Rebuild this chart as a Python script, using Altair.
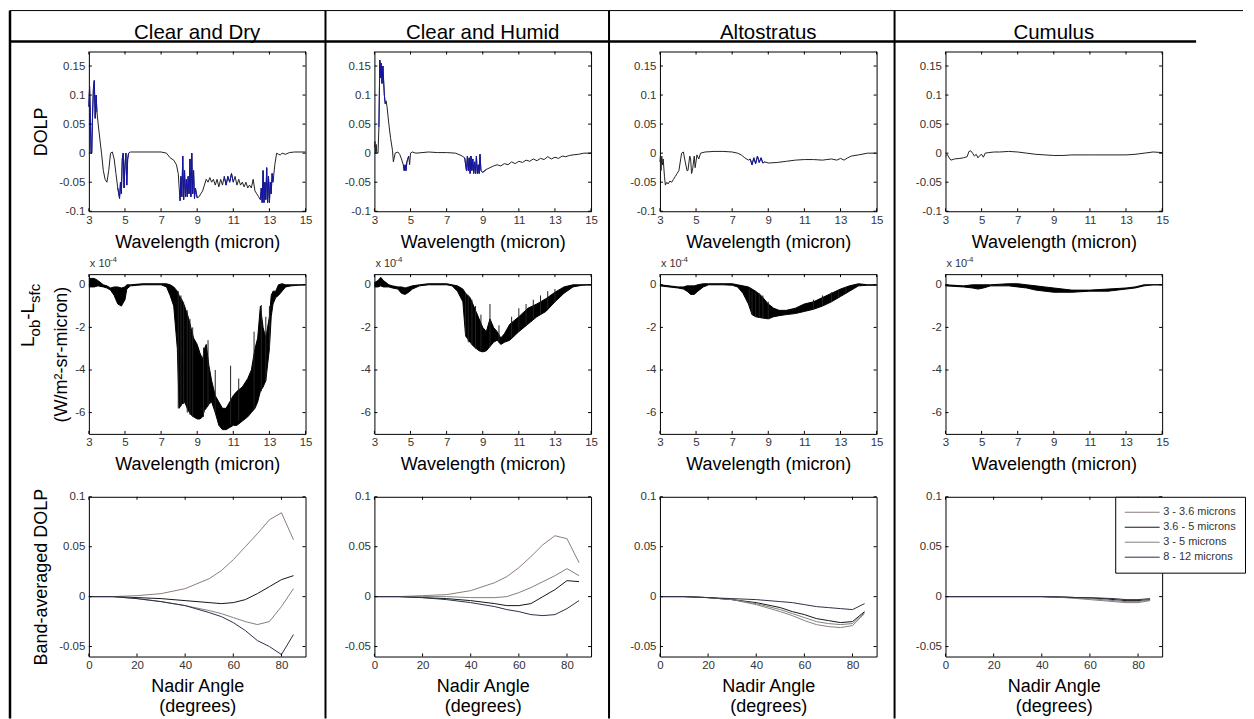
import altair as alt
import pandas as pd

FONT = "Liberation Sans"
W, H = 217, 160
TICK = 3

column_titles = ["Clear and Dry", "Clear and Humid", "Altostratus", "Cumulus"]

# ---------------- Row 1: DOLP spectra ----------------
dolp_wl_dry = [3.0, 3.04, 3.08, 3.12, 3.16, 3.2, 3.25, 3.3, 3.35, 3.4, 3.45, 3.55, 3.7, 3.8, 3.9, 4.0,
               4.1, 4.2, 4.3, 4.4, 4.5, 4.6, 4.7, 4.75, 4.8, 4.85, 4.9, 4.95, 5.0, 5.05, 5.1, 5.15,
               5.2, 5.3, 5.6, 6.0, 6.5, 7.0, 7.3, 7.5, 7.7, 7.85, 7.95, 8.05, 8.1, 8.15, 8.2, 8.25,
               8.3, 8.35, 8.4, 8.45, 8.5, 8.55, 8.6, 8.65, 8.7, 8.75, 8.8, 8.85, 8.9, 9.0, 9.1, 9.2,
               9.3, 9.4, 9.5, 9.6, 9.7, 9.8, 9.9, 10.0, 10.1, 10.2, 10.3, 10.4, 10.5, 10.6, 10.7,
               10.8, 10.9, 11.0, 11.1, 11.2, 11.3, 11.4, 11.5, 11.6, 11.7, 11.8, 11.9, 12.0, 12.1,
               12.2, 12.3, 12.4, 12.5, 12.55, 12.6, 12.65, 12.7, 12.75, 12.8, 12.85, 12.9, 12.95,
               13.0, 13.05, 13.1, 13.15, 13.2, 13.3, 13.4, 13.5, 13.6, 13.7, 13.9, 14.1, 14.4, 15.0]
dolp_dry = [0.08, 0.115, 0.07, 0.0, 0.0, 0.06, 0.11, 0.125, 0.06, 0.1, 0.07, 0.04, 0.0, -0.03, -0.045,
            -0.05, -0.03, 0.0, 0.002, -0.01, -0.035, -0.06, -0.078, -0.05, -0.07, -0.01, 0.0, -0.06,
            -0.02, 0.0, -0.055, -0.01, 0.0, 0.002, 0.002, 0.002, 0.002, 0.002, 0.0, -0.008, -0.012,
            -0.02, -0.035, -0.082, -0.04, -0.075, -0.005, -0.08, -0.03, -0.075, -0.045, -0.075, -0.04,
            -0.07, -0.01, -0.075, 0.0, -0.07, -0.03, -0.078, -0.06, -0.077, -0.075, -0.07, -0.065,
            -0.055, -0.045, -0.05, -0.042, -0.05, -0.045, -0.055, -0.045, -0.058, -0.045, -0.055,
            -0.04, -0.055, -0.04, -0.05, -0.035, -0.05, -0.04, -0.055, -0.045, -0.055, -0.05, -0.058,
            -0.05, -0.06, -0.055, -0.06, -0.045, -0.065, -0.07, -0.075, -0.08, -0.06, -0.085, -0.03,
            -0.085, -0.05, -0.08, -0.025, -0.085, -0.04, -0.085, -0.05, -0.07, -0.035, -0.05, -0.02,
            0.0, -0.002, -0.003, 0.0, -0.002, 0.001, 0.002, 0.002]
blue_ranges_dry = [(3.0, 3.45), (4.55, 5.2), (8.0, 9.0), (10.5, 11.0), (12.45, 13.2)]

dolp_wl_hum = [3.0, 3.03, 3.06, 3.1, 3.13, 3.2, 3.25, 3.3, 3.33, 3.37, 3.42, 3.47, 3.55, 3.6, 3.65, 3.7,
               3.8, 3.9, 4.0, 4.05, 4.15, 4.3, 4.4, 4.5, 4.6, 4.65, 4.7, 4.75, 4.8, 4.9, 4.95, 5.0, 5.1,
               5.3, 6.0, 6.5, 7.0, 7.5, 7.8, 8.0, 8.1, 8.15, 8.2, 8.25, 8.3, 8.35, 8.4, 8.45, 8.5, 8.55,
               8.6, 8.65, 8.7, 8.75, 8.8, 8.85, 8.9, 9.0, 9.2, 9.4, 9.6, 9.8, 10.0, 10.2, 10.4, 10.6,
               10.8, 11.0, 11.2, 11.4, 11.6, 11.8, 12.0, 12.2, 12.4, 12.6, 12.8, 13.0, 13.2, 13.4, 13.6,
               13.8, 14.0, 14.3, 14.6, 15.0]
dolp_hum = [0.01, 0.02, 0.0, 0.015, 0.0, 0.0, 0.045, 0.16, 0.13, 0.155, 0.12, 0.15, 0.1, 0.085, 0.09,
            0.08, 0.05, 0.025, 0.005, -0.015, 0.0, 0.002, -0.002, -0.01, -0.02, -0.03, -0.02, -0.03,
            -0.015, -0.005, -0.02, 0.0, 0.002, 0.0, 0.002, 0.001, 0.001, 0.0, -0.004, -0.008, -0.03,
            -0.005, -0.03, -0.008, -0.035, -0.005, -0.03, -0.01, -0.035, -0.015, -0.035, -0.005,
            -0.035, -0.02, -0.035, -0.002, -0.03, -0.033, -0.028, -0.025, -0.022, -0.02, -0.022,
            -0.018, -0.02, -0.015, -0.018, -0.014, -0.016, -0.012, -0.014, -0.01, -0.013, -0.009,
            -0.011, -0.006, -0.01, -0.007, -0.009, -0.005, -0.006, -0.004, -0.003, -0.002, 0.0, 0.0]
blue_ranges_hum = [(3.25, 3.6), (4.55, 4.9), (8.0, 9.2)]

dolp_wl_alt = [3.0, 3.03, 3.06, 3.1, 3.14, 3.18, 3.25, 3.3, 3.38, 3.45, 3.55, 3.65, 3.75, 3.85, 3.95,
               4.05, 4.15, 4.2, 4.3, 4.4, 4.5, 4.55, 4.65, 4.7, 4.75, 4.8, 4.9, 4.95, 5.05, 5.15, 5.25,
               5.5, 6.0, 6.5, 7.0, 7.3, 7.5, 7.7, 7.9, 8.0, 8.1, 8.2, 8.3, 8.4, 8.5, 8.6, 8.7, 8.8,
               9.0, 9.5, 10.0, 10.5, 11.0, 11.5, 12.0, 12.5, 12.8, 13.0, 13.2, 13.4, 13.6, 14.0, 14.5,
               15.0]
dolp_alt = [-0.015, -0.003, -0.03, -0.005, -0.02, -0.01, -0.04, -0.055, -0.05, -0.053, -0.048, -0.05,
            -0.045, -0.04, -0.035, -0.03, -0.01, 0.0, 0.002, -0.015, -0.03, -0.03, -0.005, -0.01,
            -0.035, -0.03, -0.005, -0.025, -0.003, -0.01, 0.0, 0.002, 0.003, 0.003, 0.002, 0.0,
            -0.003, -0.008, -0.012, -0.01, -0.02, -0.008, -0.018, -0.005, -0.016, -0.008, -0.017,
            -0.015, -0.017, -0.016, -0.014, -0.012, -0.011, -0.011, -0.012, -0.01, -0.012, -0.009,
            -0.012, -0.008, -0.005, -0.003, 0.0, 0.0]
blue_ranges_alt = [(8.0, 8.8)]

dolp_wl_cu = [3.0, 3.1, 3.2, 3.3, 3.5, 3.8, 4.0, 4.2, 4.3, 4.4, 4.5, 4.6, 4.7, 4.8, 4.9, 5.0, 5.1, 5.2,
              5.4, 5.7, 6.0, 6.5, 7.0, 7.5, 8.0, 8.5, 9.0, 9.5, 10.0, 11.0, 12.0, 12.5, 13.0, 13.5,
              14.0, 14.5, 15.0]
dolp_cu = [-0.005, -0.002, -0.008, -0.012, -0.01, -0.009, -0.008, -0.006, 0.003, 0.004, 0.0, -0.005,
           -0.002, -0.008, -0.004, -0.002, -0.007, 0.0, 0.001, 0.002, 0.002, 0.003, 0.002, 0.0,
           -0.002, -0.003, -0.004, -0.004, -0.003, -0.003, -0.003, -0.003, -0.003, -0.002, 0.0,
           0.002, 0.001]
blue_ranges_cu = []

# ---------------- Row 2: L_ob - L_sfc (x 1e-4), dense band envelopes ----------------
env_wl_dry = [3.0, 3.3, 3.5, 3.8, 4.0, 4.2, 4.4, 4.6, 4.8, 5.0, 5.1, 5.3, 6.0, 6.5, 7.0, 7.3, 7.5, 7.7,
              7.9, 8.0, 8.15, 8.3, 8.5, 8.65, 8.8, 9.0, 9.15, 9.3, 9.4, 9.5, 9.65, 9.8, 10.0, 10.2,
              10.4, 10.6, 10.8, 11.0, 11.2, 11.5, 11.8, 12.0, 12.2, 12.35, 12.5, 12.65, 12.8, 13.0,
              13.1, 13.2, 13.35, 13.5, 13.7, 13.9, 14.2, 14.6, 15.0]
env_hi_dry = [0.3, 0.3, 0.2, 0.0, -0.05, -0.15, -0.1, -0.1, -0.15, -0.1, 0.0, 0.0, 0.05, 0.05, 0.05,
              0.05, 0.0, -0.1, -0.3, -0.5, -0.7, -1.0, -1.5, -2.0, -2.5, -2.8, -3.2, -3.5, -3.0,
              -2.8, -3.8, -4.5, -5.2, -5.5, -5.8, -5.8, -5.5, -5.2, -5.0, -4.8, -4.4, -4.0, -3.0,
              -2.5, -1.0, -2.0, -2.5, -1.5, -0.5, -0.3, -0.3, 0.0, 0.05, 0.0, 0.0, 0.0, 0.0]
env_lo_dry = [-0.1, -0.1, -0.05, -0.1, -0.15, -0.25, -0.5, -0.9, -1.0, -0.7, -0.2, -0.05, 0.0, 0.0,
              0.0, -0.1, -0.5, -1.0, -3.0, -5.8, -5.6, -5.5, -5.9, -6.1, -6.2, -6.3, -6.3, -6.2,
              -5.9, -5.8, -5.6, -5.5, -6.0, -6.6, -6.8, -6.8, -6.7, -6.6, -6.6, -6.4, -6.2, -6.0,
              -5.8, -5.5, -5.0, -4.8, -4.5, -3.0, -1.5, -0.9, -0.6, -0.5, -0.3, -0.1, -0.05, -0.02,
              0.0]
spike_wl_dry = [7.95, 8.1, 8.25, 8.45, 8.6, 8.75, 9.35, 9.6, 10.0, 10.85, 11.3, 12.15, 12.55, 12.8, 13.0]
spike_top_dry = [-0.3, -0.5, -0.8, -1.2, -1.6, -2.0, -2.95, -2.6, -4.0, -3.8, -4.4, -2.2, -0.95, -1.5, -1.0]
spike_bot_dry = [-5.8, -5.7, -5.6, -6.0, -6.1, -6.2, -6.2, -5.7, -6.0, -6.6, -6.4, -5.8, -5.0, -4.5, -3.0]

env_wl_hum = [3.0, 3.2, 3.35, 3.5, 3.8, 4.0, 4.3, 4.5, 4.7, 4.9, 5.1, 5.5, 6.0, 7.0, 7.3, 7.6, 7.9,
              8.05, 8.3, 8.5, 8.8, 9.0, 9.2, 9.4, 9.6, 9.8, 10.0, 10.2, 10.5, 11.0, 11.5, 12.0, 12.5,
              13.0, 13.5, 14.0, 14.5, 15.0]
env_hi_hum = [0.1, 0.2, 0.35, 0.2, 0.0, -0.05, -0.1, -0.1, -0.15, -0.1, -0.05, 0.0, 0.05, 0.05, 0.0,
              -0.05, -0.2, -0.4, -0.6, -1.0, -1.6, -2.0, -2.2, -1.6, -2.0, -2.2, -2.5, -2.3, -1.85,
              -1.5, -1.1, -0.9, -0.65, -0.35, -0.1, 0.0, 0.0, 0.0]
env_lo_hum = [-0.1, -0.1, -0.05, -0.1, -0.1, -0.15, -0.2, -0.4, -0.45, -0.35, -0.2, -0.05, 0.0, 0.0,
              -0.05, -0.3, -0.8, -2.4, -2.7, -2.9, -3.1, -3.15, -3.1, -2.9, -2.7, -2.6, -2.8, -2.7,
              -2.6, -2.2, -1.85, -1.5, -1.25, -0.8, -0.4, -0.1, -0.02, 0.0]
spike_wl_hum = [8.05, 8.2, 8.4, 8.6, 8.9, 9.4, 9.9, 10.6, 11.0, 11.4, 11.8, 12.2, 12.6, 13.0]
spike_top_hum = [-0.4, -0.5, -0.7, -1.0, -1.4, -0.9, -1.9, -1.5, -1.1, -0.9, -0.7, -0.5, -0.3, -0.2]
spike_bot_hum = [-2.4, -2.7, -2.8, -3.0, -3.1, -2.9, -2.7, -2.5, -2.2, -1.9, -1.6, -1.4, -1.1, -0.8]

env_wl_alt = [3.0, 3.5, 4.0, 4.3, 4.5, 4.7, 4.9, 5.1, 5.4, 5.7, 6.5, 7.0, 7.3, 7.6, 7.9, 8.1, 8.3,
              8.6, 9.0, 9.3, 9.6, 10.0, 10.5, 11.0, 11.5, 12.0, 12.5, 13.0, 13.5, 14.0, 14.5, 15.0]
env_hi_alt = [0.0, -0.05, -0.1, -0.1, -0.05, -0.05, -0.05, 0.0, 0.05, 0.05, 0.05, 0.05, 0.0, -0.05,
              -0.1, -0.2, -0.3, -0.5, -0.9, -1.1, -1.2, -1.2, -1.1, -0.9, -0.8, -0.6, -0.4, -0.2,
              -0.05, 0.05, 0.0, 0.0]
env_lo_alt = [-0.05, -0.1, -0.15, -0.2, -0.3, -0.45, -0.45, -0.3, -0.1, 0.0, 0.0, -0.02, -0.1, -0.4,
              -0.9, -1.4, -1.5, -1.55, -1.6, -1.5, -1.45, -1.4, -1.35, -1.25, -1.15, -1.0, -0.8,
              -0.55, -0.3, -0.05, -0.02, -0.02]
spike_wl_alt = [7.95, 8.1, 8.3, 8.5, 8.7, 9.0, 11.5, 12.0, 12.5, 12.9, 13.3]
spike_top_alt = [-0.2, -0.3, -0.35, -0.4, -0.5, -0.8, -0.7, -0.5, -0.35, -0.25, -0.1]
spike_bot_alt = [-1.0, -1.4, -1.5, -1.55, -1.55, -1.6, -1.15, -1.0, -0.8, -0.6, -0.4]

env_wl_cu = [3.0, 4.0, 4.5, 4.8, 5.1, 5.5, 6.5, 7.0, 7.5, 8.0, 8.5, 9.0, 9.5, 10.0, 11.0, 12.0, 13.0,
             13.5, 14.0, 14.5, 15.0]
env_hi_cu = [0.0, -0.05, 0.0, 0.0, 0.0, 0.0, 0.05, 0.05, 0.0, -0.05, -0.1, -0.15, -0.2, -0.25, -0.25,
             -0.2, -0.15, -0.1, 0.0, 0.0, 0.0]
env_lo_cu = [-0.05, -0.1, -0.15, -0.2, -0.15, -0.05, -0.05, -0.1, -0.15, -0.25, -0.3, -0.35, -0.35,
             -0.35, -0.3, -0.3, -0.2, -0.15, -0.05, 0.0, 0.0]
spike_wl_cu = []
spike_top_cu = []
spike_bot_cu = []

# ---------------- Row 3: band-averaged DOLP vs nadir angle ----------------
band_names = ["3 - 3.6 microns", "3.6 - 5 microns", "3 - 5 microns", "8 - 12 microns"]
band_colors = ["#8d7b7b", "#151515", "#7a857a", "#2e2e48"]
nadir_angles = [0, 10, 20, 30, 40, 50, 55, 60, 65, 70, 75, 80, 85]

band_dry_a = [0, 0, 0.001, 0.003, 0.008, 0.018, 0.026, 0.037, 0.05, 0.063, 0.077, 0.084, 0.057]
band_dry_b = [0, 0, -0.002, -0.005, -0.009, -0.014, -0.017, -0.021, -0.025, -0.028, -0.025, -0.01, 0.008]
band_dry_c = [0, 0, -0.001, -0.002, -0.004, -0.006, -0.007, -0.006, -0.003, 0.003, 0.01, 0.017, 0.021]
band_dry_d = [0, 0, -0.002, -0.005, -0.009, -0.016, -0.02, -0.026, -0.034, -0.044, -0.05, -0.058, -0.038]

band_hum_a = [0, 0, 0.001, 0.002, 0.006, 0.014, 0.02, 0.029, 0.04, 0.052, 0.061, 0.058, 0.034]
band_hum_b = [0, 0, -0.001, -0.002, -0.004, -0.007, -0.009, -0.009, -0.007, 0.0, 0.007, 0.016, 0.015]
band_hum_c = [0, 0, 0, 0, -0.001, -0.001, 0, 0.004, 0.009, 0.015, 0.021, 0.028, 0.021]
band_hum_d = [0, 0, -0.001, -0.003, -0.006, -0.01, -0.013, -0.015, -0.018, -0.019, -0.018, -0.012, -0.004]

band_alt_a = [0, 0, -0.001, -0.003, -0.008, -0.015, -0.019, -0.024, -0.028, -0.03, -0.031, -0.029, -0.017]
band_alt_b = [0, 0, -0.001, -0.003, -0.006, -0.011, -0.015, -0.018, -0.022, -0.024, -0.026, -0.025, -0.015]
band_alt_c = [0, 0, -0.001, -0.003, -0.007, -0.013, -0.017, -0.021, -0.025, -0.027, -0.028, -0.027, -0.016]
band_alt_d = [0, 0, -0.001, -0.002, -0.003, -0.005, -0.006, -0.008, -0.01, -0.011, -0.012, -0.013, -0.007]

band_cu_a = [0, 0, 0, 0, 0, -0.001, -0.002, -0.003, -0.004, -0.005, -0.006, -0.006, -0.004]
band_cu_b = [0, 0, 0, 0, 0, -0.0005, -0.001, -0.0015, -0.002, -0.003, -0.004, -0.004, -0.003]
band_cu_c = [0, 0, 0, 0, 0, -0.001, -0.0015, -0.002, -0.003, -0.004, -0.005, -0.005, -0.003]
band_cu_d = [0, 0, 0, 0, 0, -0.0005, -0.001, -0.001, -0.0015, -0.002, -0.003, -0.003, -0.002]

# tick label lists
wl_ticks = [3, 5, 7, 9, 11, 13, 15]
dolp_ticks = [-0.1, -0.05, 0, 0.05, 0.1, 0.15]
rad_ticks = [0, -2, -4, -6]
angle_ticks = [0, 20, 40, 60, 80]
band_ticks = [-0.05, 0, 0.05, 0.1]

LABEL_EXPR = "'' + datum.value"
AX_TITLE = 18


def inward_ticks(xvals, yvals, xscale, yscale):
    dx = pd.DataFrame({"tx": xvals})
    dy = pd.DataFrame({"ty": yvals})
    layers = []
    for y0, y1 in [(H, H - TICK), (0, TICK)]:
        layers.append(alt.Chart(dx).mark_rule(color="black", strokeWidth=1).encode(
            x=alt.X("tx:Q", scale=xscale, axis=None), y=alt.value(y0), y2=alt.value(y1)))
    for x0, x1 in [(0, TICK), (W, W - TICK)]:
        layers.append(alt.Chart(dy).mark_rule(color="black", strokeWidth=1).encode(
            y=alt.Y("ty:Q", scale=yscale, axis=None), x=alt.value(x0), x2=alt.value(x1)))
    return layers


def x_axis(values, title, lines=False):
    if lines:
        return alt.Axis(values=values, labelExpr=LABEL_EXPR, title=title, titleY=35,
                        titleLineHeight=20)
    return alt.Axis(values=values, labelExpr=LABEL_EXPR, title=title, titleY=36)


def y_axis(values, title, title_x=-42):
    if title:
        return alt.Axis(values=values, labelExpr=LABEL_EXPR, title=title, titleX=title_x)
    return alt.Axis(values=values, labelExpr=LABEL_EXPR, title=None)


def text_piece(txt, x, y, size, angle=0, align="left", baseline="alphabetic", color="black"):
    return alt.Chart(pd.DataFrame({"t": [txt]})).mark_text(
        font=FONT, fontSize=size, angle=angle, align=align, baseline=baseline, color=color
    ).encode(text="t:N", x=alt.value(x), y=alt.value(y))


def hrule(x1, x2, y, w):
    return alt.Chart(pd.DataFrame({"k": [0]})).mark_rule(color="black", strokeWidth=w).encode(
        x=alt.value(x1), x2=alt.value(x2), y=alt.value(y))


def vrule(x, y1, y2, w):
    return alt.Chart(pd.DataFrame({"k": [0]})).mark_rule(color="black", strokeWidth=w).encode(
        x=alt.value(x), y=alt.value(y1), y2=alt.value(y2))


def panel(layers):
    return alt.layer(*layers).resolve_axis(x="independent", y="independent").properties(
        width=W, height=H)


xs_wl = alt.Scale(domain=[3, 15], nice=False, zero=False)
ys_dolp = alt.Scale(domain=[-0.1, 0.175], nice=False, zero=False)
ys_rad = alt.Scale(domain=[-7, 0.5], nice=False, zero=False)
xs_ang = alt.Scale(domain=[0, 90], nice=False, zero=False)
ys_band = alt.Scale(domain=[-0.06, 0.1], nice=False, zero=False)

row1_data = [(dolp_wl_dry, dolp_dry, blue_ranges_dry), (dolp_wl_hum, dolp_hum, blue_ranges_hum),
             (dolp_wl_alt, dolp_alt, blue_ranges_alt), (dolp_wl_cu, dolp_cu, blue_ranges_cu)]
row2_data = [(env_wl_dry, env_hi_dry, env_lo_dry), (env_wl_hum, env_hi_hum, env_lo_hum),
             (env_wl_alt, env_hi_alt, env_lo_alt), (env_wl_cu, env_hi_cu, env_lo_cu)]
row2_spikes = [(spike_wl_dry, spike_top_dry, spike_bot_dry),
               (spike_wl_hum, spike_top_hum, spike_bot_hum),
               (spike_wl_alt, spike_top_alt, spike_bot_alt),
               (spike_wl_cu, spike_top_cu, spike_bot_cu)]
row3_data = [
    [band_dry_a, band_dry_c, band_dry_b, band_dry_d],
    [band_hum_a, band_hum_b, band_hum_c, band_hum_d],
    [band_alt_a, band_alt_b, band_alt_c, band_alt_d],
    [band_cu_a, band_cu_b, band_cu_c, band_cu_d],
]

panels_r1, panels_r2, panels_r3 = [], [], []

for c in range(4):
    wl, vals, blues = row1_data[c]
    df = pd.DataFrame({"wl": wl, "dolp": vals})
    main = alt.Chart(df).mark_line(color="#222222", strokeWidth=1).encode(
        x=alt.X("wl:Q", scale=xs_wl, axis=x_axis(wl_ticks, "Wavelength (micron)")),
        y=alt.Y("dolp:Q", scale=ys_dolp, axis=y_axis(dolp_ticks, "DOLP" if c == 0 else None)),
    )
    layers = [main]
    if blues:
        parts = [df[(df.wl >= lo) & (df.wl <= hi)].assign(seg=i) for i, (lo, hi) in enumerate(blues)]
        bdf = pd.concat(parts, ignore_index=True)
        layers.append(alt.Chart(bdf).mark_line(color="#1414a8", strokeWidth=1).encode(
            x=alt.X("wl:Q", scale=xs_wl, axis=None),
            y=alt.Y("dolp:Q", scale=ys_dolp, axis=None),
            detail="seg:N"))
    layers += inward_ticks(wl_ticks, dolp_ticks, xs_wl, ys_dolp)
    layers.append(text_piece(column_titles[c], W / 2, -13, 20.5, align="center"))
    if c == 0:
        # table frame
        layers += [
            hrule(-79, 1156, -41, 1),
            hrule(-79, 1109, -10, 2.5),
            vrule(-79, -41, 668, 2.5),
            vrule(237, -41, 668, 2),
            vrule(521, -41, 668, 2),
            vrule(807, -41, 668, 2),
        ]
    panels_r1.append(panel(layers))

for c in range(4):
    wl, hi, lo = row2_data[c]
    df = pd.DataFrame({"wl": wl, "hi": hi, "lo": lo})
    base = alt.Chart(df)
    area = base.mark_area(color="black", opacity=1).encode(
        x=alt.X("wl:Q", scale=xs_wl, axis=x_axis(wl_ticks, "Wavelength (micron)")),
        y=alt.Y("lo:Q", scale=ys_rad,
                axis=y_axis(rad_ticks, "(W/m²-sr-micron)" if c == 0 else None, title_x=-22)),
        y2="hi:Q",
    )
    top = base.mark_line(color="black", strokeWidth=1).encode(
        x=alt.X("wl:Q", scale=xs_wl, axis=None), y=alt.Y("hi:Q", scale=ys_rad, axis=None))
    bot = base.mark_line(color="black", strokeWidth=1).encode(
        x=alt.X("wl:Q", scale=xs_wl, axis=None), y=alt.Y("lo:Q", scale=ys_rad, axis=None))
    layers = [area, top, bot]
    swl, stop, sbot = row2_spikes[c]
    if swl:
        sdf = pd.DataFrame({"wl": swl, "top": stop, "bot": sbot})
        layers.append(alt.Chart(sdf).mark_rule(color="#222222", strokeWidth=1).encode(
            x=alt.X("wl:Q", scale=xs_wl, axis=None),
            y=alt.Y("top:Q", scale=ys_rad, axis=None), y2="bot:Q"))
    layers += inward_ticks(wl_ticks, rad_ticks, xs_wl, ys_rad)
    layers += [text_piece("x 10", 1, -7, 11, color="#333333"),
               text_piece("-4", 21, -12, 8, color="#333333")]
    if c == 0:
        layers += [
            text_piece("L", -55, 73, 19, angle=270),
            text_piece("ob", -49, 62.4, 15, angle=270),
            text_piece("-L", -55, 45.7, 19, angle=270),
            text_piece("sfc", -49, 28.8, 15, angle=270),
        ]
    panels_r2.append(panel(layers))

for c in range(4):
    rows = []
    for name, series in zip(band_names, row3_data[c]):
        for a, v in zip(nadir_angles, series):
            rows.append({"angle": a, "val": v, "band": name})
    df = pd.DataFrame(rows)
    if c == 3:
        leg = alt.Legend(orient="none", legendX=170, legendY=0, title=None, symbolType="stroke",
                         symbolSize=1225, symbolStrokeWidth=1, clipHeight=13, rowPadding=2,
                         labelFontSize=11, labelFont=FONT, labelColor="#333333", labelOffset=3,
                         strokeColor="black", fillColor="white", padding=9)
    else:
        leg = None
    lines = alt.Chart(df).mark_line(strokeWidth=1).encode(
        x=alt.X("angle:Q", scale=xs_ang,
                axis=x_axis(angle_ticks, ["Nadir Angle", "(degrees)"], lines=True)),
        y=alt.Y("val:Q", scale=ys_band,
                axis=y_axis(band_ticks, "Band-averaged DOLP" if c == 0 else None)),
        color=alt.Color("band:N", scale=alt.Scale(domain=band_names, range=band_colors),
                        legend=leg),
        detail="band:N",
    )
    layers = [lines] + inward_ticks(angle_ticks, band_ticks, xs_ang, ys_band)
    panels_r3.append(panel(layers))

chart = alt.concat(
    *(panels_r1 + panels_r2 + panels_r3), columns=4,
    spacing={"row": 63, "column": 69}, bounds="flush",
).resolve_scale(color="independent").resolve_legend(color="independent").properties(
    padding={"left": 0, "top": 0, "right": 0, "bottom": 0}, background="white"
).configure_view(
    stroke="black", strokeWidth=1
).configure_axis(
    grid=False, domain=False, ticks=False, tickSize=0, labelFlush=False,
    labelFont=FONT, labelFontSize=11.5, labelColor="#333333", labelPadding=3,
    titleFont=FONT, titleFontSize=AX_TITLE, titleFontWeight="normal", titleColor="black",
    titleBaseline="alphabetic",
).configure_axisY(labelPadding=4)

chart.save("out.html", embed_options={"renderer": "svg", "actions": False})
